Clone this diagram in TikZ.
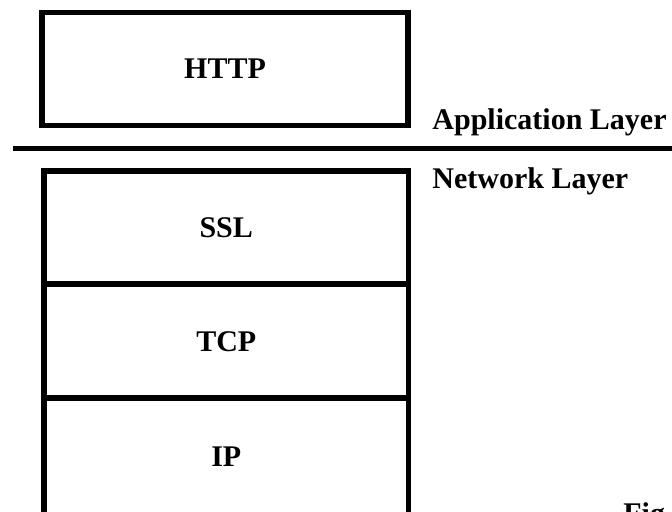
\documentclass[tikz,border=0pt]{standalone}
\usepackage{fontspec}
\setmainfont{Liberation Serif}
\usepackage{tikz}
\usetikzlibrary{positioning}
\tikzset{
  proto/.style={draw=black, line width=2.75pt, inner sep=0pt, align=center,
        font=\fontsize{15}{18}\selectfont\bfseries, minimum width=#1},
  proto/.default=183pt,
  laylab/.style={anchor=base west, inner sep=0pt,
        font=\fontsize{15}{18}\selectfont\bfseries},
  rule/.style={draw=black, line width=2.5pt},
}
\begin{document}
\begin{tikzpicture}[x=0.5pt,y=-0.5pt]
  \useasboundingbox (0,0) rectangle (672,511);
  \clip (0,0) rectangle (672,511);
  % --- application layer ---
  \node[proto, minimum height=56.5pt] (http) at (225,69) {HTTP};
  \node[laylab] (app) at (432,129) {Application Layer};
  % --- layer boundary ---
  \coordinate (ruleL) at (13,148);
  \coordinate (ruleR) at (672,148);
  \draw[rule] (ruleL) -- (ruleR);
  % --- network layer stack ---
  \node[laylab] (net) at (432,188) {Network Layer};
  \node[proto=182.25pt, minimum height=56.5pt] (ssl) at (226.25,227.5) {SSL};
  \node[proto=182.25pt, minimum height=57.25pt] (tcp) at (226.25,341.25) {TCP};
  \node[proto=182.25pt, minimum height=59pt] (ip) at (226.25,456.5) {IP};
  \node[laylab] (fig) at (623,523) {Fig. 1};
\end{tikzpicture}
\end{document}
